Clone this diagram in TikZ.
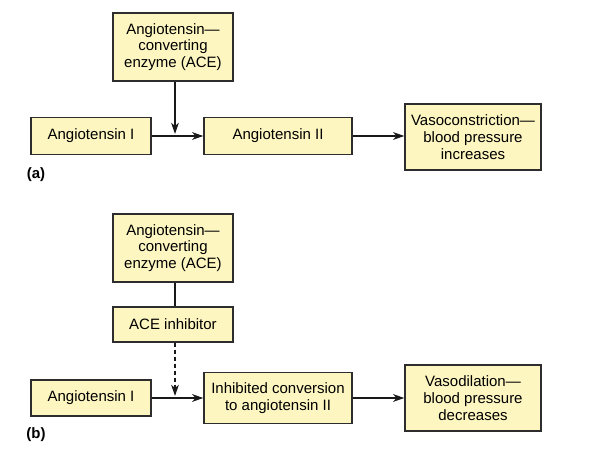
\documentclass[tikz,border=0pt]{standalone}
\usepackage{fontspec}
\setmainfont{Liberation Sans}
\usetikzlibrary{arrows.meta}
\definecolor{boxfill}{RGB}{253,246,192}
\definecolor{boxline}{RGB}{45,45,45}

\begin{document}
\begin{tikzpicture}[x=1pt,y=-1pt,
		box/.style={draw=boxline,fill=boxfill,line width=1.3pt,align=center,inner sep=0pt,
			font=\fontsize{15}{16.7}\selectfont},
		flow/.style={line width=2.3pt,black!90,-{Stealth[length=11pt,width=7.5pt,inset=3pt]}},
		tag/.style={font=\fontsize{15}{17}\selectfont\bfseries}]
		\useasboundingbox (0,0) rectangle (591,462);
		%
		% (a) normal pathway
		\node (aACE) at (173,47) [box,minimum width=120pt,minimum height=68pt] {Angiotensin---\\converting\\enzyme (ACE)};
		\node (aAngI) at (91,136) [box,minimum width=120pt,minimum height=37pt] {Angiotensin I};
		\node (aAngII) at (278,136) [box,minimum width=148pt,minimum height=37pt] {Angiotensin II};
		\node (aVaso) at (473,137) [box,minimum width=136pt,minimum height=66pt] {Vasoconstriction---\\blood pressure\\increases};
		\coordinate (aJoin) at (175,136);
		\draw[flow] (aAngI) to (aAngII);
		\draw[flow,shorten >=2pt] (aACE.south -| aJoin) to (aJoin);
		\draw[flow] (aAngII) to (aVaso.west |- aAngII.east);
		\node (aTag) at (36,175) [tag] {(a)};
		%
		%
		% (b) with ACE inhibitor
		\node (bACE) at (173,248) [box,minimum width=120pt,minimum height=68pt] {Angiotensin---\\converting\\enzyme (ACE)};
		\node (bInh) at (173,324.5) [box,minimum width=120pt,minimum height=35pt] {ACE inhibitor};
		\node (bAngI) at (91,398) [box,minimum width=120pt,minimum height=36pt] {Angiotensin I};
		\node (bConv) at (278,398) [box,minimum width=148pt,minimum height=51pt] {Inhibited conversion\\to angiotensin II};
		\node (bVaso) at (473,398) [box,minimum width=136pt,minimum height=66pt] {Vasodilation---\\blood pressure\\decreases};
		\coordinate (bJoin) at (175,398);
		\draw[line width=2.3pt,black!90] (bACE.south -| bJoin) to (bInh.north -| bJoin);
		\draw[flow,dash pattern=on 4pt off 3pt,shorten >=2pt] (bInh.south -| bJoin) to (bJoin);
		\draw[flow] (bAngI) to (bConv);
		\draw[flow] (bConv) to (bVaso);
		\node (bTag) at (36,435) [tag] {(b)};
		%
	\end{tikzpicture}
\end{document}
